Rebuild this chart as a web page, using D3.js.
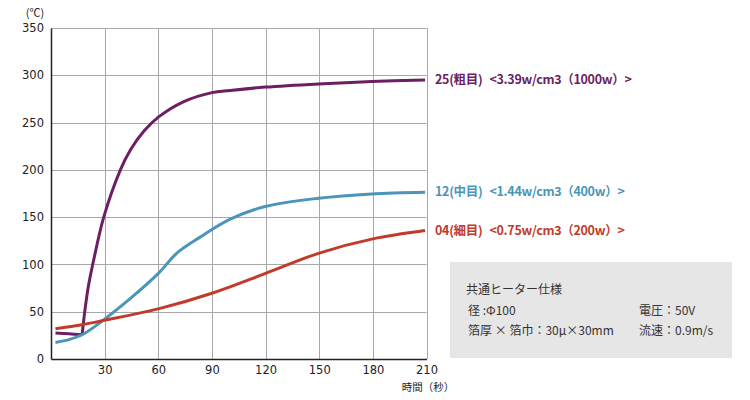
<!DOCTYPE html>
<html><head><meta charset="utf-8">
<script src="https://cdn.jsdelivr.net/npm/d3@7"></script>
<style>body{margin:0;background:#fff}svg{display:block}</style>
</head><body>
<svg id="c" width="750" height="400"></svg>
<script>
const xTicks = [30, 60, 90, 120, 150, 180, 210];
const yTicks = [0, 50, 100, 150, 200, 250, 300, 350];
const seriesNames = ["25(粗目) <3.39w/cm3（1000w）>", "12(中目) <1.44w/cm3（400w）>", "04(細目) <0.75w/cm3（200w）>"];
const seriesColors = ["#6c1f62", "#4b95ba", "#c23b2a"];
const s25a = [[2.5,27.4],[10,26.6],[17.4,25.6]];
const s25b = [[17.4,25.6],[19,52],[21,78],[23.9,105],[29.5,150],[38.8,200],[44.4,221],[52,241],[60.2,256],[74,272],[90,281.7],[100.2,284],[119.8,287.5],[149.6,290.9],[179.4,293.4],[209.2,295.1]];
const s12 = [[2.5,17.5],[10,20.5],[17.4,25.6],[29.5,41.4],[44.4,64],[60.2,90.8],[70.4,112],[83.5,129],[100.2,147.9],[119.8,161.2],[149.6,170],[179.4,174.6],[209.2,176.4]];
const s04 = [[2.5,31.9],[17.4,36.2],[30,41],[60,53],[90,69.5],[120,90.5],[150,112],[180,127],[209.2,135.8]];
const seriesData = [[s25a, s25b], [s12], [s04]];
const labelValues = [295, 177, 136];
const boxTitle = "共通ヒーター仕様";
const boxRows = [["径 :Φ100", "電圧：50V"], ["箔厚 × 箔巾：30μ×30mm", "流速：0.9m/s"]];

const svg = d3.select("#c");
const L = 51, R = 426.5, T = 28, B = 359;
const x = d3.scaleLinear().domain([0, 210]).range([L, R]);
const y = d3.scaleLinear().domain([0, 350]).range([B, T]);
const font = "'DejaVu Sans', Verdana, sans-serif";

// grid
svg.append("g").selectAll("line").data(xTicks).join("line")
  .attr("x1", d => Math.round(x(d)) + 0.5).attr("x2", d => Math.round(x(d)) + 0.5)
  .attr("y1", T).attr("y2", B).attr("stroke", "#a8a8a8").attr("stroke-width", 1);
svg.append("g").selectAll("line").data(yTicks.slice(1)).join("line")
  .attr("x1", L).attr("x2", R)
  .attr("y1", d => Math.round(y(d)) + 0.5).attr("y2", d => Math.round(y(d)) + 0.5)
  .attr("stroke", "#a8a8a8").attr("stroke-width", 1);

// axes
const xAxis = d3.axisBottom(x).tickValues(xTicks).tickSize(0).tickPadding(6);
const gx = svg.append("g").attr("transform", `translate(0,${B})`).call(xAxis);
gx.select(".domain").attr("stroke", "#222").attr("stroke-width", 1.5);
gx.selectAll("text").attr("font-family", font).attr("font-size", 11.5).attr("fill", "#222").attr("dy", "0.75em");
const yAxis = d3.axisLeft(y).tickValues(yTicks).tickSize(0).tickPadding(7);
const gy = svg.append("g").attr("transform", `translate(${L},0)`).call(yAxis);
gy.select(".domain").attr("stroke", "#222").attr("stroke-width", 1.5);
gy.selectAll("text").attr("font-family", font).attr("font-size", 11.5).attr("fill", "#222");

svg.append("text").attr("x", 35).attr("y", 17).attr("text-anchor", "middle")
  .attr("font-family", "'Noto Sans CJK JP', sans-serif").attr("font-size", 11).attr("fill", "#222").text("(℃)");
svg.append("text").attr("x", 428).attr("y", 391).attr("text-anchor", "middle")
  .attr("font-family", "'Noto Sans CJK JP', sans-serif").attr("font-size", 10.5).attr("fill", "#222").text("時間（秒）");

// lines
const line = d3.line().x(d => x(d[0])).y(d => y(d[1])).curve(d3.curveCatmullRom.alpha(0.5));
seriesData.forEach((parts, i) => {
  parts.forEach(p => svg.append("path").datum(p).attr("d", line).attr("fill", "none")
    .attr("stroke", seriesColors[i]).attr("stroke-width", 3).attr("stroke-linejoin", "round"));
});

// labels
seriesNames.forEach((n, i) => {
  const k = n.indexOf(" ");
  const t = svg.append("text").attr("x", 435).attr("y", y(labelValues[i])).attr("dy", "0.35em")
    .attr("font-family", "'Noto Sans CJK JP', sans-serif").attr("font-weight", "bold")
    .attr("font-size", 12.5).attr("letter-spacing", -0.3).attr("fill", seriesColors[i]);
  t.append("tspan").text(n.slice(0, k));
  t.append("tspan").attr("dx", 7).text(n.slice(k + 1));
});

// box
svg.append("rect").attr("x", 450).attr("y", 262).attr("width", 282).attr("height", 96).attr("fill", "#e6e6e6");
const bf = "'Noto Sans CJK JP', sans-serif";
svg.append("text").attr("x", 466).attr("y", 294).attr("font-family", bf).attr("font-size", 12).attr("fill", "#333").text(boxTitle);
boxRows.forEach((r, i) => {
  svg.append("text").attr("x", 468).attr("y", 315 + i * 20).attr("font-family", bf).attr("font-size", 12).attr("fill", "#333").text(r[0]);
  svg.append("text").attr("x", 639).attr("y", 315 + i * 20).attr("font-family", bf).attr("font-size", 12).attr("fill", "#333").text(r[1]);
});
</script>
</body></html>
